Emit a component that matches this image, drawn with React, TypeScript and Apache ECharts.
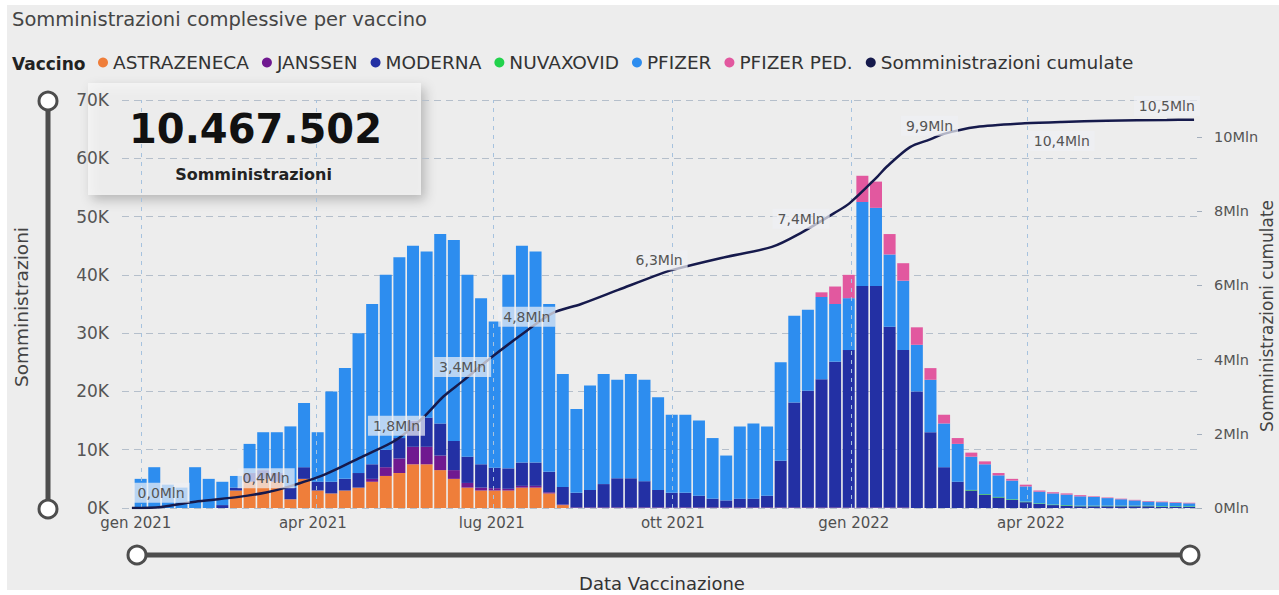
import React, { useEffect, useRef } from 'react';
import * as echarts from 'echarts';

const FONT = "'DejaVu Sans', 'Noto Sans', sans-serif";

// ---- data -------------------------------------------------------------
const chartTitle = 'Somministrazioni complessive per vaccino';
const legendTitle = 'Vaccino';
const vaccineNames = ['ASTRAZENECA', 'JANSSEN', 'MODERNA', 'NUVAXOVID', 'PFIZER', 'PFIZER PED.'];
const cumulativeName = 'Somministrazioni cumulate';
const totalAdministrations = '10.467.502';

// weeks start on this Monday; one value per week (average daily doses, thousands)
const firstWeekMonday = '2020-12-28';

const astrazeneca = [
  0, 0, 0, 0, 0, 0, 0, 3, 4.5, 5,
  4.5, 1.5, 5, 3, 2.5, 3, 3.5, 4.5, 5.5, 6,
  7.5, 7.5, 6.5, 5, 3.5, 3, 3, 3, 3.5, 3.5,
  2.5, 0.5, 0, 0, 0, 0, 0, 0, 0, 0,
  0, 0, 0, 0, 0, 0, 0, 0, 0, 0,
  0, 0, 0, 0, 0, 0, 0, 0, 0, 0,
  0, 0, 0, 0, 0, 0, 0, 0, 0, 0,
  0, 0, 0, 0, 0, 0, 0, 0,
];
const janssen = [
  0, 0, 0, 0, 0, 0, 0, 0, 0, 0,
  0, 0, 0, 0, 0, 0, 0, 0.5, 1.5, 2.5,
  3, 3, 2.5, 1.5, 0.8, 0.5, 0.4, 0.3, 0.3, 0.3,
  0.2, 0.1, 0.1, 0.1, 0.1, 0.1, 0.1, 0.1, 0.1, 0.1,
  0.1, 0.1, 0.1, 0.1, 0.1, 0.1, 0.1, 0.1, 0.1, 0.1,
  0.1, 0.1, 0.1, 0.1, 0.1, 0.1, 0.1, 0, 0, 0,
  0, 0, 0, 0, 0, 0, 0, 0, 0, 0,
  0, 0, 0, 0, 0, 0, 0, 0,
];
const moderna = [
  0, 0, 0, 0, 0, 0, 0.5, 0.5, 1.5, 1.5,
  1.5, 2, 2, 1.5, 2, 2, 2.5, 2.5, 3, 3.5,
  4.5, 5, 5.5, 5, 4.5, 4, 3.5, 3.5, 4, 4,
  3.5, 3, 2.5, 3, 4, 5, 5, 4.5, 3, 2.5,
  2.5, 2, 1.5, 1.2, 1.5, 1.5, 2, 8, 18, 20,
  22, 25, 27, 38, 38, 31, 27, 20, 13, 7,
  4.5, 3, 2.3, 1.8, 1.4, 1, 0.7, 0.5, 0.4, 0.3,
  0.3, 0.3, 0.3, 0.3, 0.3, 0.2, 0.2, 0.2,
];
const nuvaxovid = [
  0, 0, 0, 0, 0, 0, 0, 0, 0, 0,
  0, 0, 0, 0, 0, 0, 0, 0, 0, 0,
  0, 0, 0, 0, 0, 0, 0, 0, 0, 0,
  0, 0, 0, 0, 0, 0, 0, 0, 0, 0,
  0, 0, 0, 0, 0, 0, 0, 0, 0, 0,
  0, 0, 0, 0, 0, 0, 0, 0, 0, 0,
  0, 0.1, 0.1, 0.1, 0.1, 0.1, 0.1, 0.1, 0.1, 0.1,
  0.1, 0.1, 0.1, 0.1, 0.1, 0.1, 0.1, 0.1,
];
const pfizer = [
  5, 7, 4, 3.5, 7, 5, 4, 2, 5, 6.5,
  7, 10.5, 11, 8.5, 15.5, 19, 24, 27.5, 30, 31,
  30, 28.5, 32.5, 34.5, 31.2, 28.5, 25.1, 33.2, 37.2, 36.2,
  28.8, 19.4, 14.4, 17.9, 18.9, 16.9, 17.9, 17.4, 15.9, 13.4,
  13.4, 12.9, 10.4, 7.7, 12.4, 12.9, 11.9, 16.9, 14.9, 13.9,
  14.1, 9.9, 8.9, 14.4, 13.4, 12.4, 11.9, 8, 9, 7.5,
  6.5, 5.7, 5.1, 3.7, 3.2, 2.6, 2.0, 1.9, 1.8, 1.6,
  1.5, 1.3, 1.1, 0.9, 0.7, 0.7, 0.6, 0.5,
];
const pfizerPed = [
  0, 0, 0, 0, 0, 0, 0, 0, 0, 0,
  0, 0, 0, 0, 0, 0, 0, 0, 0, 0,
  0, 0, 0, 0, 0, 0, 0, 0, 0, 0,
  0, 0, 0, 0, 0, 0, 0, 0, 0, 0,
  0, 0, 0, 0, 0, 0, 0, 0, 0, 0,
  0.8, 3, 4, 4.5, 4.5, 3.5, 3, 3, 2, 1.5,
  1, 0.7, 0.5, 0.4, 0.3, 0.3, 0.2, 0.2, 0.2, 0.2,
  0.1, 0.1, 0.1, 0.1, 0.1, 0.1, 0.1, 0.1,
];

// cumulative administrations (millions)
const cumDates = [
  '2020-12-27', '2021-01-11', '2021-01-30', '2021-02-20', '2021-03-06', '2021-03-16',
  '2021-04-05', '2021-04-25', '2021-05-12', '2021-05-26', '2021-06-05', '2021-06-15',
  '2021-06-30', '2021-07-18', '2021-07-31', '2021-08-15', '2021-09-03', '2021-09-24',
  '2021-10-01', '2021-10-26', '2021-11-21', '2021-12-06', '2021-12-23', '2021-12-31',
  '2022-01-14', '2022-01-19', '2022-01-31', '2022-02-10', '2022-02-17', '2022-03-06',
  '2022-03-31', '2022-04-19', '2022-05-12', '2022-06-12', '2022-06-26',
];
const cumValues = [
  0, 0.03, 0.18, 0.3, 0.42, 0.55,
  0.9, 1.4, 1.84, 2.45, 3.0, 3.42,
  4.07, 4.78, 5.25, 5.5, 5.88, 6.3,
  6.42, 6.74, 7.04, 7.42, 7.95, 8.22,
  8.92, 9.2, 9.73, 9.93, 10.08, 10.27,
  10.37, 10.41, 10.44, 10.46, 10.47,
];
const cumLabelDates = [
  '2021-01-11', '2021-03-06', '2021-05-12', '2021-06-15', '2021-07-18',
  '2021-09-24', '2021-12-06', '2022-02-10', '2022-04-19', '2022-06-12',
];
const cumLabelBelow = '2022-04-19';

// axes
const xStart = '2020-12-25';
const xEnd = '2022-06-27';
const quarterTicks = ['2021-01-01', '2021-04-01', '2021-07-01', '2021-10-01', '2022-01-01', '2022-04-01'];
const monthNames = ['gen', 'feb', 'mar', 'apr', 'mag', 'giu', 'lug', 'ago', 'set', 'ott', 'nov', 'dic'];
const rightTicks = [0, 2, 4, 6, 8, 10];

// ---- helpers ----------------------------------------------------------
const DAY = 86400000;
function toTs(s: string): number {
  const [y, m, d] = s.split('-').map(Number);
  return Date.UTC(y, m - 1, d);
}
function fmtMln(v: number): string {
  return (Math.round(v * 10) / 10).toFixed(1).replace('.', ',') + 'Mln';
}

const COLORS = ['#EF7E3A', '#701990', '#2330A4', '#22D24C', '#2D8DEF', '#E2589F'];
const LINE_COLOR = '#161A4C';

export default function App() {
  const ref = useRef<HTMLDivElement>(null);

  useEffect(() => {
    document.body.style.margin = '0';
    const el = ref.current;
    if (!el) return;
    const chart = echarts.init(el, null, { renderer: 'svg' });

    const monday = toTs(firstWeekMonday);
    const weekTs = astrazeneca.map((_, k) => monday + (7 * k + 3.5) * DAY);
    const vaccineValues = [astrazeneca, janssen, moderna, nuvaxovid, pfizer, pfizerPed];

    const barSeries: any[] = vaccineNames.map((name, i) => {
      const s: any = {
        name,
        type: 'bar',
        stack: 'vaccini',
        barWidth: 12,
        xAxisIndex: 0,
        yAxisIndex: 0,
        itemStyle: { color: COLORS[i] },
        emphasis: { disabled: true },
        data: weekTs.map((t, k) => [t, vaccineValues[i][k]]),
      };
      if (i === 0) {
        s.markLine = {
          silent: true,
          symbol: ['none', 'none'],
          label: { show: false },
          lineStyle: { color: '#a6c2de', type: [4, 5], width: 1 },
          data: quarterTicks.map((d) => ({ xAxis: toTs(d) })),
        };
      }
      return s;
    });

    const labelSet = new Set(cumLabelDates);
    const lineData = cumDates.map((d, i) => {
      const item: any = { value: [toTs(d), cumValues[i]] };
      if (labelSet.has(d)) {
        item.label =
          d === cumLabelBelow
            ? { show: true, position: 'bottom', distance: 9 }
            : { show: true, position: 'top' };
      }
      return item;
    });

    const lineSeries = {
      name: cumulativeName,
      type: 'line',
      xAxisIndex: 0,
      yAxisIndex: 1,
      z: 5,
      smooth: 0.3,
      showSymbol: true,
      symbol: 'circle',
      symbolSize: 0.1,
      itemStyle: { color: LINE_COLOR },
      lineStyle: { color: LINE_COLOR, width: 2.5 },
      emphasis: { disabled: true },
      label: {
        show: false,
        formatter: (p: any) => fmtMln(p.value[1]),
        fontFamily: FONT,
        fontSize: 14,
        color: '#555',
        backgroundColor: 'rgba(238,240,244,0.72)',
        padding: [3, 5],
        distance: 4,
      },
      data: lineData,
    };

    const cardX = 88, cardY = 83, cardW = 333, cardH = 112;

    const option: any = {
      animation: false,
      backgroundColor: 'transparent',
      textStyle: { fontFamily: FONT },
      title: {
        text: chartTitle,
        left: 12,
        top: 9,
        padding: 0,
        textStyle: { fontFamily: FONT, fontSize: 19.5, fontWeight: 'normal', color: '#454545' },
      },
      legend: {
        left: 98,
        top: 53,
        padding: 0,
        icon: 'circle',
        itemWidth: 10,
        itemHeight: 10,
        itemGap: 13,
        textStyle: { fontFamily: FONT, fontSize: 18.5, color: '#333' },
        data: [...vaccineNames, cumulativeName],
      },
      grid: { left: 122, right: 77, top: 100, bottom: 87, containLabel: false },
      xAxis: [
        {
          type: 'time',
          min: toTs(xStart),
          max: toTs(xEnd),
          axisLine: { show: false },
          axisTick: { show: false },
          splitLine: { show: false },
          axisLabel: { show: false },
        },
        {
          type: 'value',
          position: 'bottom',
          min: toTs(xStart),
          max: toTs(xEnd),
          axisLine: { show: false },
          axisTick: { show: false },
          splitLine: { show: false },
          axisLabel: {
            customValues: quarterTicks.map(toTs),
            formatter: (v: number) => {
              const d = new Date(v);
              return monthNames[d.getUTCMonth()] + ' ' + d.getUTCFullYear();
            },
            fontFamily: FONT,
            fontSize: 15,
            color: '#505050',
            margin: 7,
          },
        },
      ],
      yAxis: [
        {
          type: 'value',
          position: 'left',
          min: 0,
          max: 70,
          interval: 10,
          axisLine: { show: false },
          axisTick: { show: false },
          axisLabel: {
            formatter: (v: number) => v + 'K',
            fontFamily: FONT,
            fontSize: 17,
            color: '#555',
            margin: 13,
          },
          splitLine: { show: true, lineStyle: { color: '#b5bfcb', type: [7, 5], width: 1 } },
        },
        {
          type: 'value',
          position: 'right',
          min: 0,
          max: 11,
          interval: 2,
          axisLine: { show: false },
          axisTick: {
            show: true,
            inside: true,
            length: 5,
            customValues: rightTicks,
            lineStyle: { color: '#a4afbd' },
          },
          axisLabel: {
            customValues: rightTicks,
            formatter: (v: number) => v + 'Mln',
            fontFamily: FONT,
            fontSize: 14.5,
            color: '#555',
            margin: 12,
          },
          splitLine: { show: false },
        },
      ],
      series: [...barSeries, lineSeries],
      graphic: {
        elements: [
          {
            type: 'rect',
            shape: { x: cardX, y: cardY, width: cardW, height: cardH },
            style: {
              fill: 'rgba(250,250,250,0.6)',
              shadowBlur: 12,
              shadowColor: 'rgba(0,0,0,0.38)',
              shadowOffsetX: 4,
              shadowOffsetY: 5,
            },
            z: -10,
          },
          {
            type: 'text',
            x: cardX + cardW / 2 + 1,
            y: 129,
            z: 31,
            style: {
              text: totalAdministrations,
              fontFamily: FONT,
              fontSize: 40,
              fontWeight: 'bold',
              fill: '#111',
              align: 'center',
              verticalAlign: 'middle',
            },
          },
          {
            type: 'text',
            x: cardX + cardW / 2 - 1,
            y: 174,
            z: 31,
            style: {
              text: 'Somministrazioni',
              fontFamily: FONT,
              fontSize: 16,
              fontWeight: 'bold',
              fill: '#222',
              align: 'center',
              verticalAlign: 'middle',
            },
          },
          {
            type: 'text',
            x: 12,
            y: 64,
            style: {
              text: legendTitle,
              fontFamily: FONT,
              fontSize: 17,
              fontWeight: 'bold',
              fill: '#222',
              verticalAlign: 'middle',
            },
          },
          {
            type: 'text',
            x: 21,
            y: 307,
            rotation: Math.PI / 2,
            style: {
              text: 'Somministrazioni',
              fontFamily: FONT,
              fontSize: 18.5,
              fill: '#444',
              align: 'center',
              verticalAlign: 'middle',
            },
          },
          {
            type: 'text',
            x: 1267,
            y: 316,
            rotation: Math.PI / 2,
            style: {
              text: cumulativeName,
              fontFamily: FONT,
              fontSize: 17,
              fill: '#444',
              align: 'center',
              verticalAlign: 'middle',
            },
          },
          {
            type: 'text',
            x: 662,
            y: 583,
            style: {
              text: 'Data Vaccinazione',
              fontFamily: FONT,
              fontSize: 18,
              fill: '#333',
              align: 'center',
              verticalAlign: 'middle',
            },
          },
          {
            type: 'line',
            shape: { x1: 48, y1: 101, x2: 48, y2: 509 },
            style: { stroke: '#4d4d4d', lineWidth: 5 },
            z: 20,
          },
          {
            type: 'circle',
            shape: { cx: 48, cy: 101, r: 9 },
            style: { fill: '#ffffff', stroke: '#4d4d4d', lineWidth: 3 },
            z: 21,
          },
          {
            type: 'circle',
            shape: { cx: 48, cy: 509, r: 9 },
            style: { fill: '#ffffff', stroke: '#4d4d4d', lineWidth: 3 },
            z: 21,
          },
          {
            type: 'line',
            shape: { x1: 137, y1: 555, x2: 1190, y2: 555 },
            style: { stroke: '#4d4d4d', lineWidth: 5 },
            z: 20,
          },
          {
            type: 'circle',
            shape: { cx: 137, cy: 555, r: 9 },
            style: { fill: '#ffffff', stroke: '#4d4d4d', lineWidth: 3 },
            z: 21,
          },
          {
            type: 'circle',
            shape: { cx: 1190, cy: 555, r: 9 },
            style: { fill: '#ffffff', stroke: '#4d4d4d', lineWidth: 3 },
            z: 21,
          },
        ],
      },
    };

    chart.setOption(option);
    return () => chart.dispose();
  }, []);

  return (
    <div style={{ position: 'relative', width: 1279, height: 595, background: '#ffffff', overflow: 'hidden' }}>
      <div style={{ position: 'absolute', left: 7, top: 5, width: 1272, height: 585, background: '#ededed' }} />
      <div ref={ref} style={{ position: 'absolute', left: 0, top: 0, width: 1279, height: 595 }} />
    </div>
  );
}
